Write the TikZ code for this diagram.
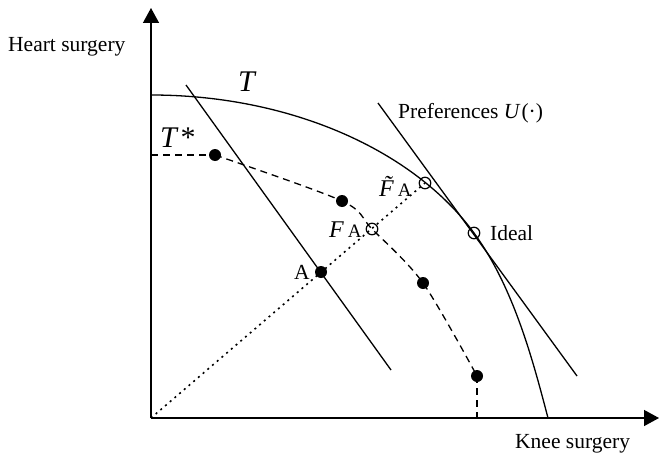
\documentclass[tikz,border=0pt]{standalone}
\usepackage{fontspec}
\setmainfont{Liberation Serif}
\usetikzlibrary{arrows.meta}
\begin{document}
\begin{tikzpicture}[x=1pt,y=-1pt,
  axis/.style={line width=1.4pt,-{Triangle[length=15pt,width=16pt]}},
  curve/.style={line width=1.3pt},
  dashedline/.style={line width=1.3pt,dash pattern=on 7pt off 5pt},
  dottedline/.style={line width=1.6pt,dash pattern=on 2pt off 4.2pt},
  dotnode/.style={circle,fill=black,inner sep=0pt,minimum size=12pt},
  opennode/.style={circle,draw=black,line width=1.2pt,inner sep=0pt,minimum size=11.5pt},
  lbl/.style={font=\fontsize{21.5}{25}\selectfont,inner sep=0pt,anchor=base west},
  biglbl/.style={font=\fontsize{30}{34}\selectfont,inner sep=0pt,anchor=base west},
  midlbl/.style={font=\fontsize{24}{28}\selectfont,inner sep=0pt,anchor=base west}]
\useasboundingbox (0,0) rectangle (660,452);

% coordinates
\coordinate (O) at (151,418);
\coordinate (ytop) at (151,8);
\coordinate (xend) at (659,418);
\coordinate (T0) at (151,95);
\coordinate (T1) at (548,418);
\coordinate (B1) at (186,85);
\coordinate (B2) at (391,370);
\coordinate (P1) at (378,103);
\coordinate (P2) at (577,376);
\coordinate (H0) at (151,155);
\coordinate (X0) at (477,418);

% points
\node[dotnode] (d1) at (215,155) {};
\node[dotnode] (d2) at (342,201) {};
\node[dotnode] (d3) at (423,283) {};
\node[dotnode] (d4) at (477,376) {};
\node[dotnode] (A) at (321,272) {};
\node[opennode] (F) at (372,229) {};
\node[opennode] (Ft) at (425,183) {};
\node[opennode] (Id) at (474,233) {};

% axes
\draw[axis] (O) -- (ytop);
\draw[axis] (O) -- (xend);

% frontier T
\draw[curve] (T0) .. controls (291,95) and (414,150.8) .. (Id.center)
  .. controls (514,287.8) and (533,361) .. (T1);

% budget line and preferences
\draw[curve] (B1) -- (B2);
\draw[curve] (P1) -- (P2);

% T* dashed
\draw[dashedline] (H0) -- (d1.center);
\draw[dashedline] plot[smooth,tension=0.5] coordinates {(d1.center) (d2.center) (F.center) (d3.center) (d4.center)};
\draw[dashedline] (d4.center) -- (X0);

% ray from origin
\draw[dottedline] (O) -- (Ft.center);

% labels
\node[lbl] (hs) at (8,51.7) {Heart surgery};
\node[lbl] (ks) at (515,448.3) {Knee surgery};
\node[biglbl] (Tl) at (238,91.7) {\textit{T}};
\node[biglbl] (Tsl) at (160,147.3) {\textit{T}\kern2pt*};
\node[lbl] (pl) at (398,118.3) {Preferences \textit{U}\kern1pt(·)};
\node[lbl] (il) at (490,240) {Ideal};
\node[lbl] (al) at (294,279.3) {A};
\node[midlbl] (fl) at (329,237.7) {{\itshape F}\kern4pt{\fontsize{19}{22}\selectfont A}};
\node[midlbl] (ftl) at (379,196) {{\itshape\~F}\kern4pt{\fontsize{19}{22}\selectfont A}};
\end{tikzpicture}
\end{document}
